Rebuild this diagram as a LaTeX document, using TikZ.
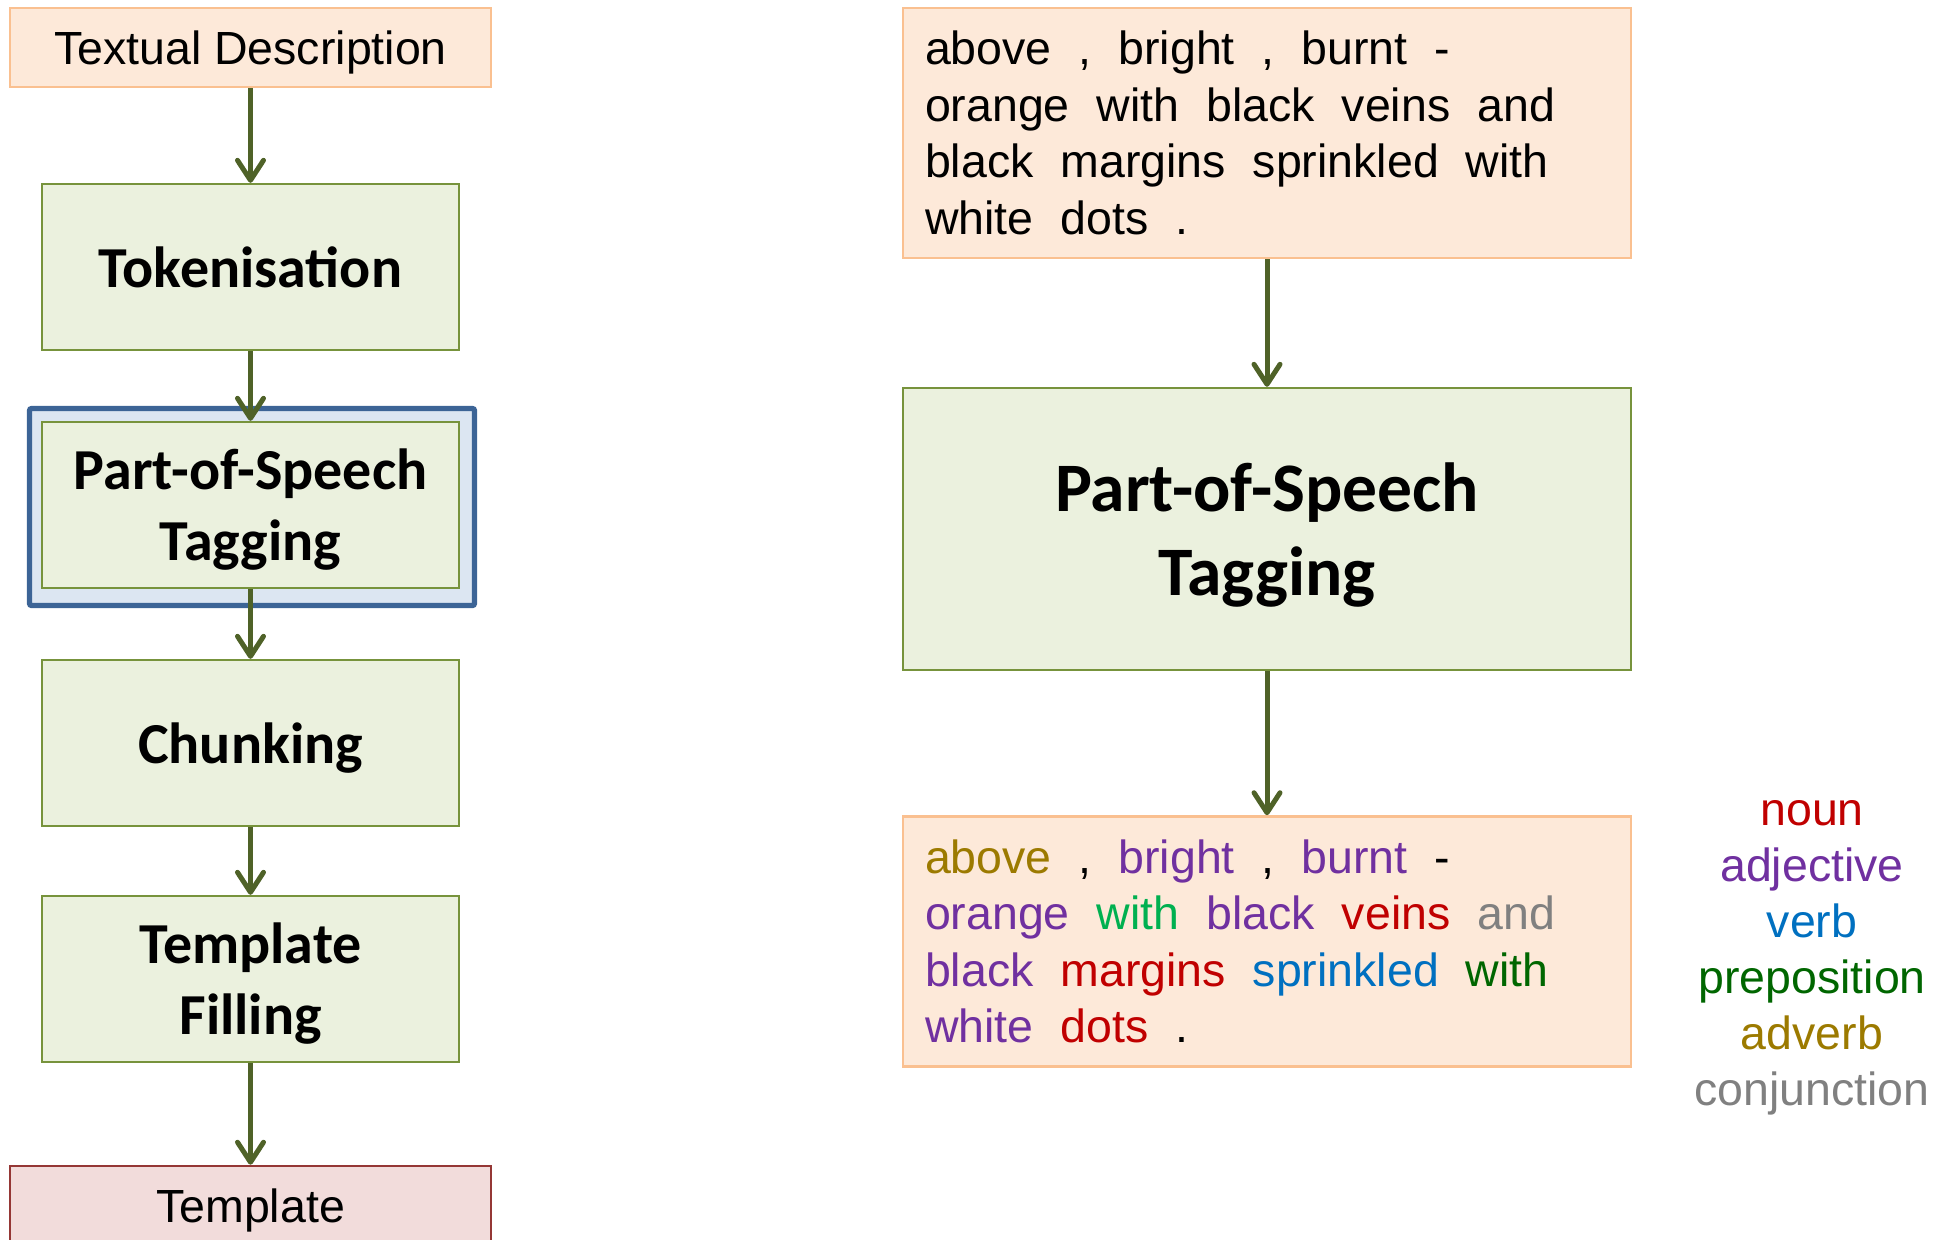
\documentclass[tikz,border=0pt]{standalone}
\usepackage{fontspec}
\setmainfont{Liberation Sans}
\newfontfamily\calibrifont{Carlito}
\usetikzlibrary{arrows.meta}

\definecolor{peachfill}{HTML}{FDE9D9}
\definecolor{peachline}{HTML}{FAC090}
\definecolor{sagefill}{HTML}{EBF1DE}
\definecolor{sageline}{HTML}{77933C}
\definecolor{skyfill}{HTML}{DCE6F2}
\definecolor{skyline}{HTML}{3C6496}
\definecolor{rosefill}{HTML}{F2DCDB}
\definecolor{roseline}{HTML}{953735}
\definecolor{flowcol}{HTML}{4F6228}
\definecolor{nouncol}{HTML}{C00000}
\definecolor{adjcol}{HTML}{7030A0}
\definecolor{verbcol}{HTML}{0070C0}
\definecolor{prepcol}{HTML}{006600}
\definecolor{prepbright}{HTML}{00B050}
\definecolor{advcol}{HTML}{9C7A00}
\definecolor{conjcol}{HTML}{808080}

\newcommand\arialsize{\fontsize{23.25pt}{28.25pt}\selectfont}
% token sentences: words separated by a double-width gap
\newcommand\widegaps{\spaceskip=0.58em\relax\xspaceskip=0.58em\relax}

\begin{document}
\begin{tikzpicture}[x=0.5pt,y=-0.5pt,
  peachbox/.style={draw=peachline, fill=peachfill, line width=1.3pt, inner sep=0pt},
  rosebox/.style={draw=roseline, fill=rosefill, line width=1.3pt, inner sep=0pt},
  ioplain/.style={minimum width=240.5pt, minimum height=39.5pt, text depth=0pt,
    font=\arialsize},
  stagebox/.style={draw=sageline, fill=sagefill, line width=1.2pt, inner sep=0pt,
    minimum width=208.5pt, minimum height=83pt, align=center, text depth=0pt,
    font=\calibrifont\bfseries\fontsize{29pt}{35.5pt}\selectfont},
  sentence/.style={peachbox, minimum height=125pt, inner xsep=11pt, inner ysep=0pt,
    text width=342pt, align=left, font=\arialsize},
  legendword/.style={anchor=base, inner sep=0pt, font=\arialsize},
  flow/.style={draw=flowcol, line width=2.5pt,
    -{Straight Barb[length=10pt, width=13pt, line cap=round, line join=round]}}
]
\useasboundingbox (0,0) rectangle (1948,1239);

% ---- left column: processing pipeline ----
\node[peachbox, ioplain] (desc) at (250.5,47.5) {Textual Description};
\node[stagebox] (tok) at (250.5,267) {Tokenisation};
\node[draw=skyline, fill=skyfill, line width=2.6pt, rounded corners=1pt,
      minimum width=222.5pt, minimum height=98.5pt, inner sep=0pt] (posframe) at (252,507) {};
\node[stagebox] (pos) at (250.5,505) {Part-of-Speech\\Tagging};
\node[stagebox] (chunk) at (250.5,743) {Chunking};
\node[stagebox] (fill) at (250.5,979) {Template\\Filling};
\node[rosebox, ioplain] (templ) at (250.5,1205.5) {Template};

\draw[flow] (desc) -- (tok);
\draw[flow] (tok) -- (pos);
\draw[flow] (pos) -- (chunk);
\draw[flow] (chunk) -- (fill);
\draw[flow] (fill) -- (templ);

% ---- right column: tagging example ----
\node[sentence] (raw) at (1267,133) {\widegaps above , bright , burnt -\\
orange with black veins and\\
black margins sprinkled with\\
white dots .};

\node[draw=sageline, fill=sagefill, line width=1.2pt, inner sep=0pt,
      minimum width=364pt, minimum height=141pt, align=center, text depth=0pt,
      font=\calibrifont\bfseries\fontsize{34.75pt}{42.25pt}\selectfont]
      (bigpos) at (1267,529) {Part-of-Speech\\Tagging};

\node[sentence] (tagged) at (1267,941.5) {\widegaps
\textcolor{advcol}{above} , \textcolor{adjcol}{bright} , \textcolor{adjcol}{burnt} -\\
\textcolor{adjcol}{orange} \textcolor{prepbright}{with} \textcolor{adjcol}{black} \textcolor{nouncol}{veins} \textcolor{conjcol}{and}\\
\textcolor{adjcol}{black} \textcolor{nouncol}{margins} \textcolor{verbcol}{sprinkled} \textcolor{prepcol}{with}\\
\textcolor{adjcol}{white} \textcolor{nouncol}{dots} .};

\draw[flow] (raw) -- (bigpos);
\draw[flow] (bigpos) -- (tagged);

% ---- colour key ----
\node[legendword, text=nouncol] (knoun) at (1812,825) {noun};
\node[legendword, text=adjcol] (kadj) at (1812,881) {adjective};
\node[legendword, text=verbcol] (kverb) at (1812,937) {verb};
\node[legendword, text=prepcol] (kprep) at (1812,993) {preposition};
\node[legendword, text=advcol] (kadv) at (1812,1049) {adverb};
\node[legendword, text=conjcol] (kconj) at (1812,1105) {conjunction};
\end{tikzpicture}
\end{document}
